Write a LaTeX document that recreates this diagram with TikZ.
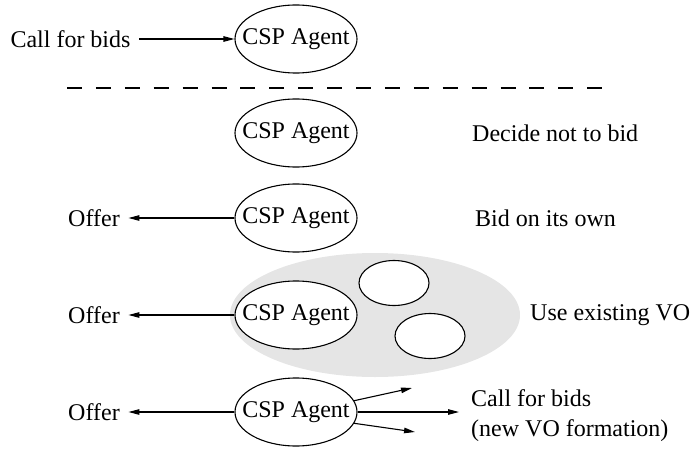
\documentclass[tikz,border=0pt]{standalone}
\usepackage{fontspec}
\setmainfont{Liberation Serif}
\usetikzlibrary{arrows.meta,shapes.geometric}
\begin{document}
\begin{tikzpicture}[x=1pt,y=-1pt,
  every node/.style={font=\fontsize{24}{30}\selectfont},
  agent/.style={draw, ellipse, line width=1.1pt, minimum width=122pt, minimum height=68pt, inner sep=0pt, fill=white},
  smallvo/.style={draw, ellipse, line width=1.1pt, minimum width=70pt, minimum height=45pt, inner sep=0pt, fill=white},
  voarea/.style={ellipse, fill=gray!20, minimum width=290pt, minimum height=124pt, inner sep=0pt},
  lbl/.style={inner xsep=8.5pt, inner ysep=0pt},
  rlbl/.style={anchor=west, inner sep=0pt, align=left},
  arr/.style={line width=1.1pt, -{Triangle[length=11pt,width=5.5pt]}},
  dashline/.style={line width=2.6pt, dash pattern=on 15pt off 13.9pt}]
\useasboundingbox (0,0) rectangle (692,449);

% row 1
\node[agent] (a1) at (296,39) {\makebox[0pt]{CSP Agent}};
\node[lbl] (cfb) at (70.5,39) {Call for bids};
\draw[arr] (cfb) -- (a1);

% separator
\coordinate (d1) at (67,88);
\coordinate (d2) at (602.2,88);
\draw[dashline] (d1) -- (d2);

% row 2
\node[agent] (a2) at (296,133) {\makebox[0pt]{CSP Agent}};
\node[rlbl] (t2) at (472,133) {Decide not to bid};

% row 3
\node[agent] (a3) at (296,218) {\makebox[0pt]{CSP Agent}};
\node[lbl] (o3) at (94,218) {Offer};
\draw[arr] (a3) -- (o3);
\node[rlbl] (t3) at (475,218) {Bid on its own};

% row 4
\node[voarea] (vo) at (375,315) {};
\node[smallvo] (s1) at (394,283) {};
\node[smallvo] (s2) at (430,336) {};
\node[agent] (a4) at (296,315) {\makebox[0pt]{CSP Agent}};
\node[lbl] (o4) at (94,315) {Offer};
\draw[arr] (a4) -- (o4);
\node[rlbl] (t4) at (530,315) {Use existing VO};

% row 5
\node[agent] (a5) at (296,412) {\makebox[0pt]{CSP Agent}};
\node[lbl] (o5) at (94,412) {Offer};
\draw[arr] (a5) -- (o5);
\coordinate (up) at (412,388);
\coordinate (mid) at (459,412);
\coordinate (dn) at (415,432);
\draw[arr] (a5.11) -- (up);
\draw[arr] (a5) -- (mid);
\draw[arr] (a5.-11) -- (dn);
\node[rlbl] (t5) at (471,416) {Call for bids\\(new VO formation)};
\end{tikzpicture}
\end{document}
